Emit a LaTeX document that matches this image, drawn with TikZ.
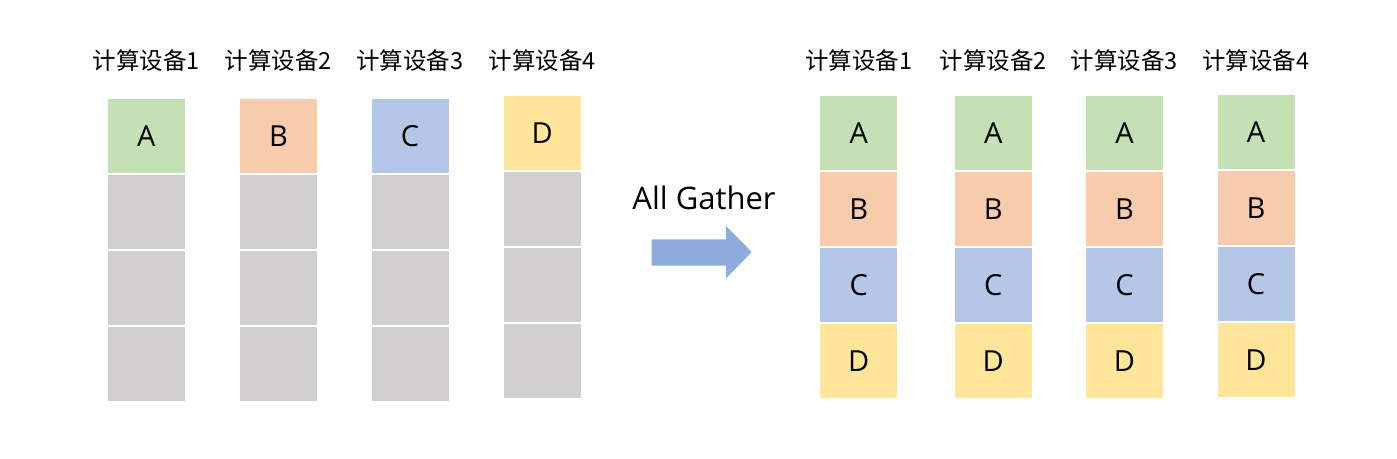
\documentclass[tikz,border=0pt]{standalone}
\usepackage{fontspec}
\setmainfont{Open Sans}
\newfontfamily\cjk{Noto Sans CJK SC}

\definecolor{cellA}{HTML}{C5E0B4}
\definecolor{cellB}{HTML}{F8CBAD}
\definecolor{cellC}{HTML}{B4C7E7}
\definecolor{cellD}{HTML}{FFE699}
\definecolor{cellE}{HTML}{D0CECE}
\definecolor{arrowc}{HTML}{8FAADC}

\begin{document}
\begin{tikzpicture}[x=1pt,y=-1pt,
  cell/.style={draw=white,line width=2pt,minimum width=79pt,minimum height=76pt,
    inner sep=0pt,font=\fontsize{29}{29}\selectfont},
  dev/.style={font=\cjk\fontsize{23.5}{23.5}\selectfont}]
   \useasboundingbox (0,0) rectangle (1397,458);

   % before
   \node[dev] (d1) at (146.2,61) {计算设备1};
   \node[dev] (d2) at (278.5,61) {计算设备2};
   \node[dev] (d3) at (410,61) {计算设备3};
   \node[dev] (d4) at (542.3,61) {计算设备4};

   \node[cell,fill=cellA] (s11) at (146.2,135.7) {A};
   \node[cell,fill=cellE] (s12) at (146.2,211.7) {};
   \node[cell,fill=cellE] (s13) at (146.2,287.7) {};
   \node[cell,fill=cellE] (s14) at (146.2,363.7) {};

   \node[cell,fill=cellB] (s21) at (278.5,135.7) {B};
   \node[cell,fill=cellE] (s22) at (278.5,211.7) {};
   \node[cell,fill=cellE] (s23) at (278.5,287.7) {};
   \node[cell,fill=cellE] (s24) at (278.5,363.7) {};

   \node[cell,fill=cellC] (s31) at (410,135.7) {C};
   \node[cell,fill=cellE] (s32) at (410,211.7) {};
   \node[cell,fill=cellE] (s33) at (410,287.7) {};
   \node[cell,fill=cellE] (s34) at (410,363.7) {};

   \node[cell,fill=cellD] (s41) at (542.3,133.3) {D};
   \node[cell,fill=cellE] (s42) at (542.3,209.2) {};
   \node[cell,fill=cellE] (s43) at (542.3,285.1) {};
   \node[cell,fill=cellE] (s44) at (542.3,361) {};

   % all gather
   \node[font=\fontsize{31}{31}\selectfont] (op) at (704,198) {All Gather};
   \fill[arrowc] (651.7,239.3) -- (726,239.3) -- (726,226) -- (751.7,252)
      -- (726,278.3) -- (726,265.7) -- (651.7,265.7) -- cycle;

   % after
   \node[dev] (e1) at (858.7,61) {计算设备1};
   \node[dev] (e2) at (993.2,61) {计算设备2};
   \node[dev] (e3) at (1124.5,61) {计算设备3};
   \node[dev] (e4) at (1256,61) {计算设备4};

   \node[cell,fill=cellA] (t11) at (858.7,133.2) {A};
   \node[cell,fill=cellB] (t12) at (858.7,209.1) {B};
   \node[cell,fill=cellC] (t13) at (858.7,284.9) {C};
   \node[cell,fill=cellD] (t14) at (858.7,360.8) {D};

   \node[cell,fill=cellA] (t21) at (993.2,133.2) {A};
   \node[cell,fill=cellB] (t22) at (993.2,209.1) {B};
   \node[cell,fill=cellC] (t23) at (993.2,284.9) {C};
   \node[cell,fill=cellD] (t24) at (993.2,360.8) {D};

   \node[cell,fill=cellA] (t31) at (1124.5,133.2) {A};
   \node[cell,fill=cellB] (t32) at (1124.5,209.1) {B};
   \node[cell,fill=cellC] (t33) at (1124.5,284.9) {C};
   \node[cell,fill=cellD] (t34) at (1124.5,360.8) {D};

   \node[cell,fill=cellA] (t41) at (1256,132.2) {A};
   \node[cell,fill=cellB] (t42) at (1256,208) {B};
   \node[cell,fill=cellC] (t43) at (1256,283.9) {C};
   \node[cell,fill=cellD] (t44) at (1256,359.7) {D};

\end{tikzpicture}
\end{document}
